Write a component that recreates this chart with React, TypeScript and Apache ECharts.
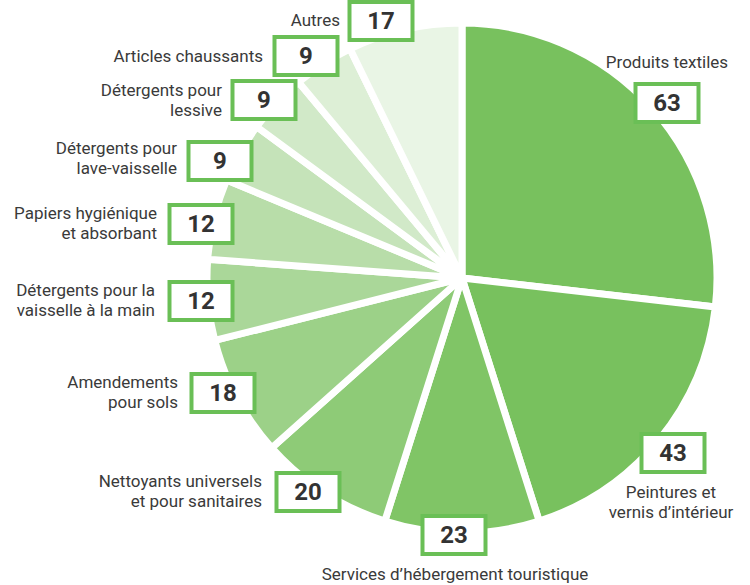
import React, { useEffect, useRef } from "react";
import * as echarts from "echarts";

const categories = [
  "Produits textiles",
  "Peintures et\nvernis d’intérieur",
  "Services d’hébergement touristique",
  "Nettoyants universels\net pour sanitaires",
  "Amendements\npour sols",
  "Détergents pour la\nvaisselle à la main",
  "Papiers hygiénique\net absorbant",
  "Détergents pour\nlave-vaisselle",
  "Détergents pour\nlessive",
  "Articles chaussants",
  "Autres",
];
const values = [63, 43, 23, 20, 18, 12, 12, 9, 9, 9, 17];
const sliceColors = [
  "#78c15e", "#78c15e", "#80c566", "#8ecb77", "#9cd188", "#aad799",
  "#b8dda9", "#c5e3b9", "#d1e9c8", "#ddefd6", "#e9f5e5",
];

// label layout (x, y, align) for the category names and the value boxes
const nameLayout: [number, number, string][] = [
  [667, 62, "center"],
  [671, 502, "center"],
  [455, 574, "center"],
  [262, 491, "right"],
  [178, 392, "right"],
  [155, 300, "right"],
  [157, 223, "right"],
  [177, 158, "right"],
  [222, 100, "right"],
  [263, 56, "right"],
  [340, 20, "right"],
];
const boxLayout: [number, number][] = [
  [667, 103], [673, 453], [454, 535], [308, 492], [223, 393], [201, 301],
  [201, 224], [220, 161], [264, 100], [306, 56], [381, 21],
];

export default function App() {
  const ref = useRef<HTMLDivElement>(null);
  useEffect(() => {
    if (!ref.current) return;
    const chart = echarts.init(ref.current, null, { renderer: "svg" });
    const data = categories.map((name, i) => ({
      name,
      value: values[i],
      itemStyle: { color: sliceColors[i] },
    }));
    const center = [462, 278];
    const radius = 255;
    chart.setOption({
      animation: false,
      backgroundColor: "#ffffff",
      series: [
        {
          type: "pie",
          center,
          radius,
          startAngle: 90,
          avoidLabelOverlap: false,
          data,
          itemStyle: { borderColor: "#ffffff", borderWidth: 7 },
          labelLine: { show: false },
          label: {
            show: true,
            position: "outside",
            formatter: "{b}",
            color: "#3a3a3a",
            fontFamily: "Roboto, sans-serif",
            fontSize: 17,
            lineHeight: 20,
          },
          labelLayout: (p: any) => {
            const l = nameLayout[p.dataIndex];
            return { x: l[0], y: l[1], align: l[2], verticalAlign: "middle" };
          },
          silent: true,
        },
        {
          type: "pie",
          center,
          radius,
          startAngle: 90,
          avoidLabelOverlap: false,
          data: categories.map((name, i) => ({ name, value: values[i] })),
          itemStyle: { color: "rgba(0,0,0,0)", borderWidth: 0 },
          labelLine: { show: false },
          label: {
            show: true,
            position: "outside",
            formatter: "{c}",
            color: "#333333",
            fontFamily: "Roboto, sans-serif",
            fontWeight: "bold",
            fontSize: 24,
            backgroundColor: "#ffffff",
            borderColor: "#6abf56",
            borderWidth: 4,
            width: 59,
            height: 34,
            lineHeight: 34,
            align: "center",
          },
          labelLayout: (p: any) => {
            const l = boxLayout[p.dataIndex];
            return { x: l[0], y: l[1], align: "center", verticalAlign: "middle" };
          },
          silent: true,
        },
      ],
    });
    return () => chart.dispose();
  }, []);
  return (
    <div
      ref={ref}
      style={{ position: "fixed", left: 0, top: 0, width: 750, height: 585 }}
    />
  );
}
